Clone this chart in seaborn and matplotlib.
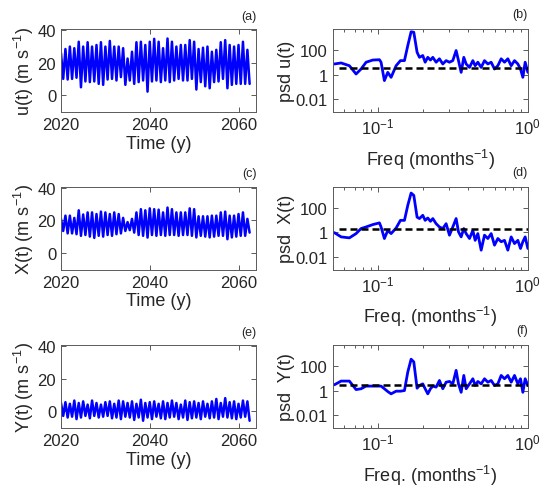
import matplotlib
matplotlib.use("Agg")
import matplotlib.pyplot as plt
import matplotlib.ticker as mticker
import numpy as np
import pandas as pd
import seaborn as sns

# time series, one peak and one trough per year
u_peaks = [26, 28.5, 30, 29, 33, 30, 32.7, 30, 31, 32.7, 30, 33.5, 30, 30, 29, 22.6, 26.8, 32.7, 33, 31,
           33, 34.8, 33, 29, 35, 33, 30, 31, 31, 34, 33, 28.5, 29.3, 30, 26.8, 28, 32.7, 34, 31, 30,
           31, 33, 28]
u_troughs = [10, 9.6, 10, 10.7, 4.8, 8.4, 8, 8.4, 6.9, 6.3, 9.6, 10, 9, 11.1, 6.3, 9, 6.9, 8, 9, 2.1,
             8.4, 9, 8, 9, 8, 9, 10, 9, 9, 10, 3.4, 8, 5.4, 4.2, 8, 8.4, 10, 4.2, 6.3, 6.9,
             6.9, 6.9, 6.9]
x_peaks = [21, 23, 23, 21.6, 26.3, 23.7, 25, 25, 24, 25.5, 25, 24, 25, 24, 21.6, 19, 21, 25, 27, 26.3,
           27.5, 27, 26.7, 25, 28, 27, 25, 25, 25, 27.5, 27, 22.6, 22.6, 22.6, 23, 23, 25, 25.5, 23, 23,
           24, 25, 21]
x_troughs = [13.5, 12, 12, 11.5, 10.5, 11, 10, 9.2, 10.5, 10, 11, 10.5, 11.5, 12, 13.5, 14, 12.5, 11, 10.5, 9.4,
             11, 10.5, 11, 10.5, 11, 11, 10.5, 11, 11, 10.5, 9.5, 10.5, 10, 9.5, 10, 10.5, 10.5, 8.4, 9.5, 10,
             10.5, 10.5, 12.5]
y_peaks = [5, 5.5, 4.5, 6.5, 5, 6, 4, 6.5, 5, 4, 5.5, 6, 4.5, 6.5, 6, 5, 6, 4.5, 7, 5,
           5.5, 6, 4.5, 6, 5, 6.5, 5, 4, 6.5, 5.5, 6, 5, 6, 4.5, 6, 7.5, 5, 8, 5.5, 6,
           4.5, 6.5, 6]
y_troughs = [-3, -4, -3.5, -5, -4, -3, -4.5, -3, -4, -3.5, -3, -4.5, -4, -5, -3.5, -4, -5.5, -4, -6, -4,
             -5, -3.5, -4.5, -5, -4, -3.5, -5, -4, -5.5, -4.5, -4, -5, -3.5, -4.5, -4, -5, -3.5, -4, -4.5, -5,
             -4, -3.5, -6]
start_year = 2020.0
step_year = 0.5

# power spectra (months^-1)
freq = [0.0514, 0.0570, 0.0647, 0.0717, 0.0774, 0.0836, 0.0926, 0.1026, 0.1052, 0.1107,
        0.1166, 0.1227, 0.1325, 0.1416, 0.1506, 0.1585, 0.1668, 0.1738, 0.1828, 0.1896,
        0.1995, 0.2069, 0.2154, 0.2244, 0.2327, 0.2448, 0.2576, 0.2712, 0.2854, 0.3004,
        0.3162, 0.3327, 0.3451, 0.3594, 0.3743, 0.3881, 0.4085, 0.4300, 0.4456, 0.4642,
        0.4886, 0.5142, 0.5412, 0.5696, 0.5995, 0.6310, 0.6641, 0.6990, 0.7356, 0.7743,
        0.8150, 0.8577, 0.8933, 0.9261, 0.9597, 1.0]
psd_u = [7.2, 8.7, 5.2, 1.1, 2.8, 10, 15, 16, 10, 0.32,
         1.5, 0.59, 5.2, 13.5, 13.5, 224, 3000, 2750, 65, 25,
         35, 10, 25, 15, 25, 10, 19, 7.2, 13.5, 10,
         13.5, 89, 13.5, 1.5, 25, 7.2, 3.8, 13.5, 5.2, 10,
         3.8, 13.5, 7.2, 10, 2.8, 5.2, 19, 10, 19, 5.2,
         13.5, 7.2, 2.8, 0.59, 10, 1.5]
psd_x = [0.93, 0.42, 0.35, 0.78, 2.0, 2.7, 4.2, 5.8, 2.7, 0.31,
         1.4, 0.78, 2.2, 9.3, 9.3, 155, 1550, 1000, 17, 13,
         24, 9.3, 14.5, 7.8, 13, 5.0, 2.7, 2.0, 5.0, 0.58,
         2.7, 13, 1.07, 0.42, 2.0, 0.78, 0.31, 1.4, 0.22, 0.78,
         0.035, 0.58, 0.31, 0.78, 0.089, 0.31, 0.17, 0.22, 0.035, 0.42,
         0.12, 0.22, 0.048, 0.17, 0.42, 0.048]
psd_y = [2.95, 5.9, 5.9, 1.2, 1.4, 2.3, 2.3, 2.3, 2.3, 1.4,
         0.83, 0.54, 0.89, 0.89, 1.0, 32, 355, 214, 1.55, 2.6,
         3.5, 1.4, 0.54, 1.4, 2.3, 1.9, 6.6, 1.4, 4.8, 5.5,
         3.5, 44, 3.5, 0.72, 17, 1.4, 3.5, 9.1, 2.6, 5.5,
         3.5, 9.1, 4.8, 6.6, 2.6, 3.5, 17, 9.1, 17, 4.8,
         17, 3.5, 9.1, 0.72, 9.1, 2.6]
# dashed reference levels
level_freq = [0.0555, 1.0]
level_u = 3.4
level_x = 2.0
level_y = 2.6

ts_labels = ["u(t) (m s$^{-1}$)", "X(t) (m s$^{-1}$)", "Y(t) (m s$^{-1}$)"]
psd_labels = ["psd u(t)", "psd  X(t)", "psd  Y(t)"]
freq_labels = ["Freq (months$^{-1}$)", "Freq. (months$^{-1}$)", "Freq. (months$^{-1}$)"]
panel_tags = [("(a)", "(b)"), ("(c)", "(d)"), ("(e)", "(f)")]

sns.set_theme(style="ticks")
plt.rcParams["font.family"] = ["Liberation Sans", "DejaVu Sans"]
plt.rcParams["mathtext.fontset"] = "custom"
plt.rcParams["mathtext.rm"] = "Liberation Sans"
plt.rcParams["mathtext.it"] = "Liberation Sans:italic"

text_col = "#262626"
spine_col = "#5a5a5a"

fig = plt.figure(figsize=(5.47, 4.89), dpi=100)

rows_y0 = [0.769, 0.4464, 0.1227]
row_h = 0.170
left_x0, right_x0, col_w = 0.1115, 0.608, 0.357


def interleave(peaks, troughs):
    vals = []
    for p, t in zip(peaks, troughs):
        vals += [p, t]
    return vals


series = [interleave(u_peaks, u_troughs), interleave(x_peaks, x_troughs), interleave(y_peaks, y_troughs)]
spectra = [psd_u, psd_x, psd_y]
levels = [level_u, level_x, level_y]


def style_axes(ax):
    for s in ax.spines.values():
        s.set_color(spine_col)
        s.set_linewidth(0.7)
    ax.tick_params(which="both", direction="in", top=True, right=True, colors=spine_col,
                   labelcolor=text_col, labelsize=12, width=0.7)
    ax.tick_params(which="major", length=3.5)
    ax.tick_params(which="minor", length=2)


for i in range(3):
    vals = series[i]
    df = pd.DataFrame({"time": start_year + step_year * np.arange(len(vals)), "val": vals})
    ax = fig.add_axes([left_x0, rows_y0[i], col_w, row_h])
    sns.lineplot(data=df, x="time", y="val", ax=ax, color="#0000ff", lw=1.8)
    ax.set_xlim(2020, 2064)
    ax.set_ylim(-10.5, 41)
    ax.set_xticks([2020, 2040, 2060])
    ax.set_yticks([0, 20, 40])
    ax.set_xlabel("Time (y)", fontsize=13, color=text_col, labelpad=2)
    ax.set_ylabel(ts_labels[i], fontsize=13, color=text_col, labelpad=1)
    style_axes(ax)
    ax.text(1.0, 1.16, panel_tags[i][0], transform=ax.transAxes, ha="right", va="center",
            fontsize=9, color=text_col)

    dfp = pd.DataFrame({"freq": freq, "psd": spectra[i]})
    axp = fig.add_axes([right_x0, rows_y0[i], col_w, row_h])
    sns.lineplot(data=dfp, x="freq", y="psd", ax=axp, color="#0000ff", lw=2.0)
    dfl = pd.DataFrame({"freq": level_freq, "psd": [levels[i]] * 2})
    sns.lineplot(data=dfl, x="freq", y="psd", ax=axp, color="black", lw=1.8,
                 linestyle=(0, (2.8, 1.6)))
    axp.set_xscale("log")
    axp.set_yscale("log")
    axp.set_xlim(0.05, 1.0)
    axp.set_ylim(9e-4, 5.2e3)
    axp.set_yticks([0.01, 1, 100])
    axp.yaxis.set_major_formatter(mticker.FuncFormatter(lambda v, p: f"{v:g}"))
    axp.yaxis.set_minor_locator(mticker.NullLocator())
    axp.set_xlabel(freq_labels[i], fontsize=13, color=text_col, labelpad=7)
    axp.set_ylabel(psd_labels[i], fontsize=13, color=text_col, labelpad=0)
    style_axes(axp)
    axp.text(1.0, 1.18, panel_tags[i][1], transform=axp.transAxes, ha="right", va="center",
             fontsize=9, color=text_col)

fig.savefig("out.png", dpi=100)
